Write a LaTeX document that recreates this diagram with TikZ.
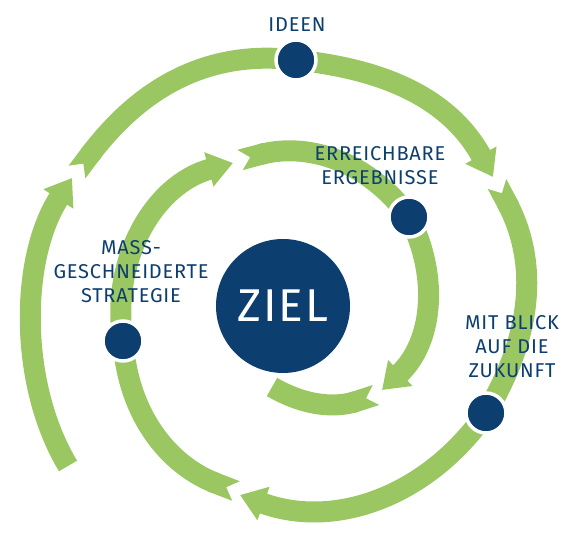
\documentclass[tikz,border=0pt]{standalone}
\usepackage{fontspec}
\setmainfont{Fira Sans}[LetterSpace=4]
\usetikzlibrary{arrows.meta,backgrounds}

\definecolor{navy}{RGB}{12,62,112}
\definecolor{leaf}{RGB}{155,199,99}

\tikzset{
  dot/.style={circle, fill=navy, draw=white, line width=3.5pt, minimum size=40pt, inner sep=0pt},
  tag/.style={text=navy, align=center, font=\fontsize{20}{24}\selectfont},
  band/.style={draw=leaf, line width=21pt},
  head/.style={-{Triangle[length=25pt,width=34pt]}},
  notch/.style={{Triangle Cap[reversed]}-}
}

\begin{document}
\begin{tikzpicture}[x=1pt,y=1pt]
    \useasboundingbox (0,0) rectangle (587,537);

    % goal in the middle
    \node[dot, draw=none, minimum size=134pt, text=white,
          font=\fontsize{46}{46}\selectfont] (ziel) at (283,231) {ZIEL};

    % stations on the spiral
    \node[dot] (ideen) at (296,477) {};
    \node[dot] (blick) at (486,124) {};
    \node[dot] (mass) at (123,196) {};
    \node[dot] (erreich) at (409,320) {};

    \node[tag] (ideentxt) at (297,512) {IDEEN};
    \node[tag] (erreichtxt) at (380,371) {ERREICHBARE\\ERGEBNISSE};
    \node[tag] (masstxt) at (131,265) {MASS-\\GESCHNEIDERTE\\STRATEGIE};
    \node[tag] (blicktxt) at (512,190) {MIT BLICK\\AUF DIE\\ZUKUNFT};

    % free ends of the arrows
    \coordinate (s1) at (68,71);
    \coordinate (t1) at (72,359);
    \coordinate (s2) at (77,365);
    \coordinate (t3) at (493,360);
    \coordinate (s4) at (497,353);
    \coordinate (t5) at (240,42);
    \coordinate (s6) at (236,46);
    \coordinate (t7) at (233,374);
    \coordinate (s8) at (240,377);
    \coordinate (t9) at (382,147);
    \coordinate (s10) at (376,142);
    \coordinate (e10) at (272,150);

    \begin{scope}[on background layer]
        \draw[band, head] (s1) to[out=121, in=237, looseness=0.85] (t1);
        \draw[band, notch] (s2) to[out=53, in=173] (ideen.center);
        \draw[band, head] (ideen.center) to[out=-6, in=119] (t3);
        \draw[band, notch] (s4) to[out=-62, in=59] (blick.center);
        \draw[band, head] (blick.center) to[out=-125, in=-20] (t5);
        \draw[band, notch] (s6) to[out=159, in=274] (mass.center);
        \draw[band, head] (mass.center) to[out=99, in=195] (t7);
        \draw[band, notch] (s8) to[out=15, in=126] (erreich.center);
        \draw[band, head] (erreich.center) to[out=-63, in=43] (t9);
        \draw[band, notch] (s10) to[out=198, in=-30] (e10);
    \end{scope}

\end{tikzpicture}
\end{document}
